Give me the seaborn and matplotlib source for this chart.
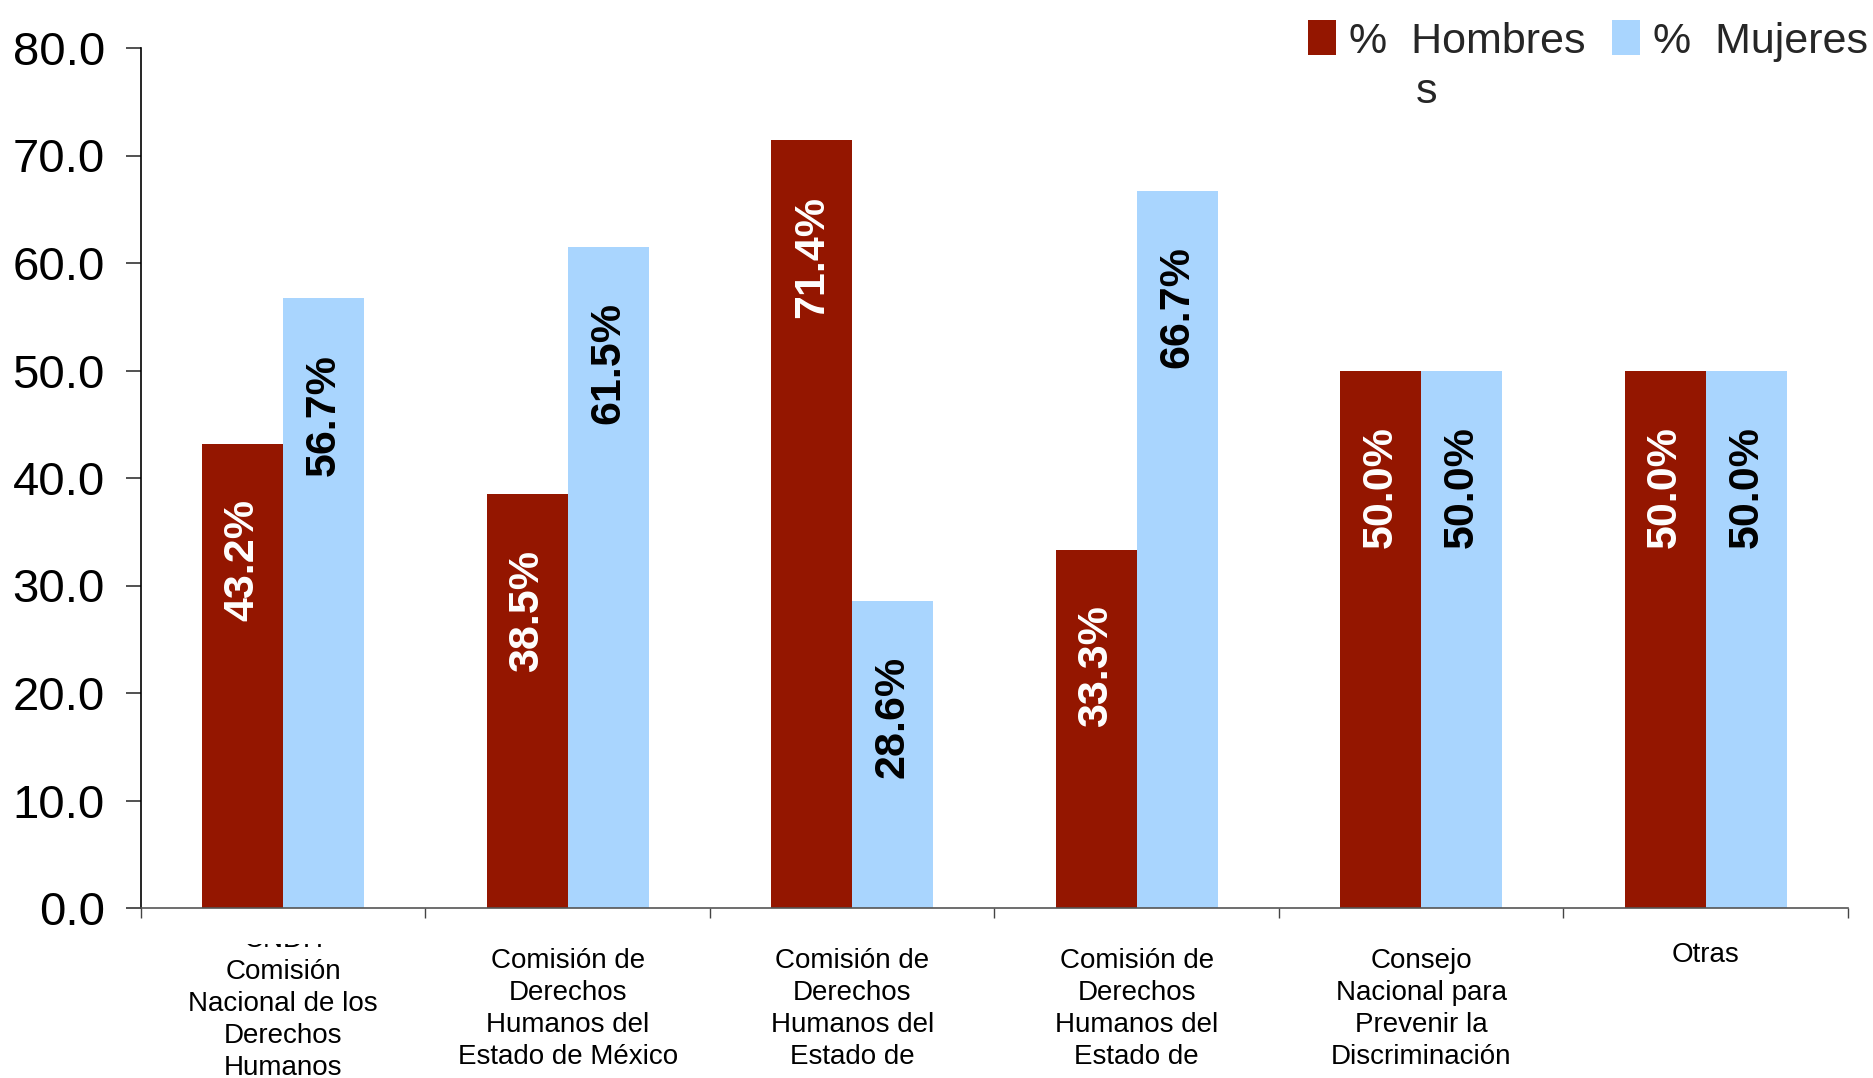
import numpy as np
import pandas as pd
import matplotlib
matplotlib.use("Agg")
import matplotlib.pyplot as plt
import seaborn as sns
from matplotlib.patches import Patch
from matplotlib.ticker import FormatStrFormatter, FixedLocator
from matplotlib.transforms import blended_transform_factory, Bbox, IdentityTransform, TransformedBbox

# ---------------- data ----------------
categories = ["CNDH", "CODHEM", "CDH_3", "CDH_4", "CONAPRED", "Otras"]
tick_labels = [
    "CNDH\nComisión\nNacional de los\nDerechos\nHumanos",
    "Comisión de\nDerechos\nHumanos del\nEstado de México",
    "Comisión de\nDerechos\nHumanos del\nEstado de",
    "Comisión de\nDerechos\nHumanos del\nEstado de",
    "Consejo\nNacional para\nPrevenir la\nDiscriminación",
    "Otras",
]
hombres = [43.2, 38.5, 71.4, 33.3, 50.0, 50.0]
mujeres = [56.7, 61.5, 28.6, 66.7, 50.0, 50.0]
series = ["%  Hombres", "%  Mujeres"]
colors = ["#941600", "#A9D5FE"]
label_colors = ["white", "black"]
y_ticks = [0, 10, 20, 30, 40, 50, 60, 70, 80]

df = pd.DataFrame({
    "cat": categories * 2,
    "val": hombres + mujeres,
    "serie": [series[0]] * len(categories) + [series[1]] * len(categories),
})

# ---------------- style ----------------
sns.set_style("ticks")
plt.rcParams["font.family"] = ["Liberation Sans", "DejaVu Sans"]

W, H = 1874, 1078
fig = plt.figure(figsize=(W / 100, H / 100), dpi=100)
ax = fig.add_axes([141 / W, 1 - 908 / H, (1848 - 141) / W, (908 - 48) / H])

sns.barplot(data=df, x="cat", y="val", hue="serie", order=categories,
            hue_order=series, palette=colors, saturation=1, width=0.57,
            gap=0, linewidth=0, legend=False, ax=ax, errorbar=None)

ax.set_xlim(-0.5, len(categories) - 0.5)
ax.set_ylim(0, 80)
ax.set_xlabel("")
ax.set_ylabel("")

# y axis
ax.yaxis.set_major_locator(FixedLocator(y_ticks))
ax.yaxis.set_major_formatter(FormatStrFormatter("%.1f"))
ax.tick_params(axis="y", direction="out", length=11, width=1.2, color="#333333",
               labelsize=34, pad=15, labelcolor="black")

# x axis: ticks at category boundaries, labels drawn as text
ax.set_xticks(np.arange(len(categories)))
ax.set_xticklabels([""] * len(categories))
ax.tick_params(axis="x", which="major", length=0)
ax.set_xticks(np.arange(-0.5, len(categories), 1.0), minor=True)
ax.tick_params(axis="x", which="minor", direction="out", length=7, width=1.0,
               color="#444444")

sns.despine(ax=ax, top=True, right=True)
ax.spines["left"].set_color("black")
ax.spines["left"].set_linewidth(1.2)
ax.spines["bottom"].set_color("#555555")
ax.spines["bottom"].set_linewidth(1.2)

# category labels
trans = blended_transform_factory(ax.transData, ax.transAxes)
clip = TransformedBbox(Bbox([[0, 0], [W, H - 944]]), IdentityTransform())
for i, lab in enumerate(tick_labels):
    if i == 0:
        y = -0.0225
    elif i == len(tick_labels) - 1:
        y = -0.040
    else:
        y = -0.047
    t = ax.text(i, y, lab, transform=trans, ha="center", va="top",
                fontsize=20, linespacing=1.30, color="black",
                multialignment="center")
    if i == 0:
        t.set_clip_on(True)
        t.set_clip_box(clip)

# value labels inside bars
for cont, vals, lc in zip(ax.containers, [hombres, mujeres], label_colors):
    for bar, v in zip(cont, vals):
        ax.annotate(f"{v:.1f}%",
                    xy=(bar.get_x() + bar.get_width() / 2, bar.get_height()),
                    xytext=(0, -40), textcoords="offset points",
                    rotation=90, ha="center", va="top",
                    fontsize=31, fontweight="bold", color=lc)

# legend
handles = [Patch(facecolor=c, edgecolor="none") for c in colors]
leg = fig.legend(handles, series, loc="upper right",
                 bbox_to_anchor=(1.0, 1.0 - 14 / H),
                 ncol=2, frameon=False, fontsize=31, handlelength=0.65,
                 handleheight=0.85, handletextpad=0.3, columnspacing=0.6,
                 borderaxespad=0.0, borderpad=0.15)

fig.canvas.draw()
r = fig.canvas.get_renderer()
bb = leg.get_texts()[0].get_window_extent(r)
frac = 1.445 / (1.445 + 4.056)
fig.text((bb.x0 + bb.width * frac + 4) / W, (bb.y0 - 30) / H, "s",
         fontsize=31, ha="left", va="center")

fig.savefig("out.png", dpi=100)
